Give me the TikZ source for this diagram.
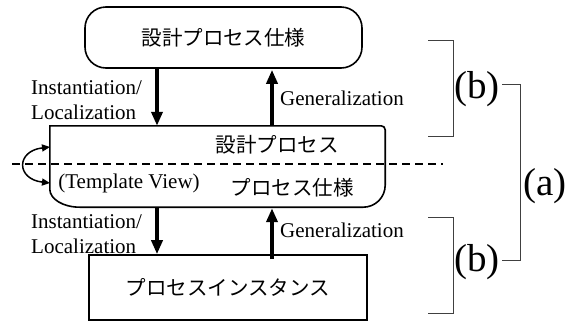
\documentclass[tikz,border=0pt]{standalone}
\usepackage{fontspec}
\setmainfont{Liberation Serif}
\newfontfamily\jp{Noto Sans CJK JP}
\usetikzlibrary{arrows.meta,calc}
\begin{document}
\begin{tikzpicture}[x=1pt,y=-1pt,
  boxline/.style={line width=1.6pt,black},
  jptext/.style={font=\jp\fontsize{20.5}{24}\selectfont,inner sep=0pt},
  entext/.style={font=\fontsize{21}{25}\selectfont,inner sep=0pt,align=left},
  bigtext/.style={font=\fontsize{39}{44}\selectfont,inner sep=0pt},
  thickarrow/.style={line width=3.5pt,-{Triangle[length=14pt,width=11pt]}},
  loopar/.style={line width=1.5pt,{Triangle[length=8pt,width=7pt]}-{Triangle[length=8pt,width=7pt]}},
  brk/.style={line width=0.9pt,black!75},
  dashline/.style={line width=1.6pt,dash pattern=on 8pt off 5pt}]
\useasboundingbox (0,0) rectangle (574,322);

% boxes
\node[boxline,draw,rounded corners=21pt,minimum width=277pt,minimum height=61pt,inner sep=0pt] (top) at (223.5,37.5) {};
\node[minimum width=335pt,minimum height=81pt,inner sep=0pt] (mid) at (217.5,166.5) {};
\node[boxline,draw,minimum width=278pt,minimum height=65pt,inner sep=0pt] (bot) at (228,287.5) {};

% dashed divider
\coordinate (dl) at (12,164);
\coordinate (dr) at (443,164);
\draw[dashline] (dl) -- (dr);

% middle box outline: top-left sharp, top-right slightly rounded, bottom corners rounded
\draw[boxline] (mid.north west) -- ([xshift=-4pt]mid.north east)
  arc[start angle=90,end angle=0,radius=4pt]
  -- ([yshift=22pt]mid.south east)
  arc[start angle=0,end angle=-90,x radius=22pt,y radius=22pt]
  -- ([xshift=30pt]mid.south west)
  arc[start angle=-90,end angle=-180,x radius=30pt,y radius=18pt]
  -- cycle;

% texts
\node[jptext] (ttop) at (top.center) {設計プロセス仕様};
\node[jptext] (tmid1) at (277,145) {設計プロセス};
\node[jptext] (tmid2) at (292,188) {プロセス仕様};
\node[jptext] (tbot) at (bot.center) {プロセスインスタンス};
\node[entext] (tview) at (129,183) {(Template View)};

% arrows
\coordinate (xl) at (157,0);
\coordinate (xr) at (272,0);
\draw[thickarrow] (top.south -| xl) -- (mid.north -| xl);
\draw[thickarrow] (mid.north -| xr) -- ([yshift=-1pt]top.south -| xr);
\draw[thickarrow] (mid.south -| xl) -- (bot.north -| xl);
\draw[thickarrow] ([yshift=-5pt]bot.north -| xr) -- ([yshift=-1pt]mid.south -| xr);

\node[entext,anchor=west] (inst1) at (31,100.5) {Instantiation/\\Localization};
\node[entext,anchor=west] (gen1) at (280,98) {Generalization};
\node[entext,anchor=west] (inst2) at (31,234.5) {Instantiation/\\Localization};
\node[entext,anchor=west] (gen2) at (280,230) {Generalization};

% loop arrow (template view)
\coordinate (la) at (50,147);
\coordinate (lb) at (50,183);
\draw[loopar] (la) .. controls (16,151) and (16,179) .. (lb);

% brackets
\node[bigtext] (b1) at (477,89) {(b)};
\node[bigtext] (b2) at (477,262) {(b)};
\node[bigtext] (a) at (545,186) {(a)};
\draw[brk] (428,40) -- (453,40) -- (453,136) -- (428,136);
\draw[brk] (428,217) -- (453,217) -- (453,313) -- (428,313);
\draw[brk] (502,84) -- (520,84) -- (520,260) -- (502,260);
\end{tikzpicture}
\end{document}
